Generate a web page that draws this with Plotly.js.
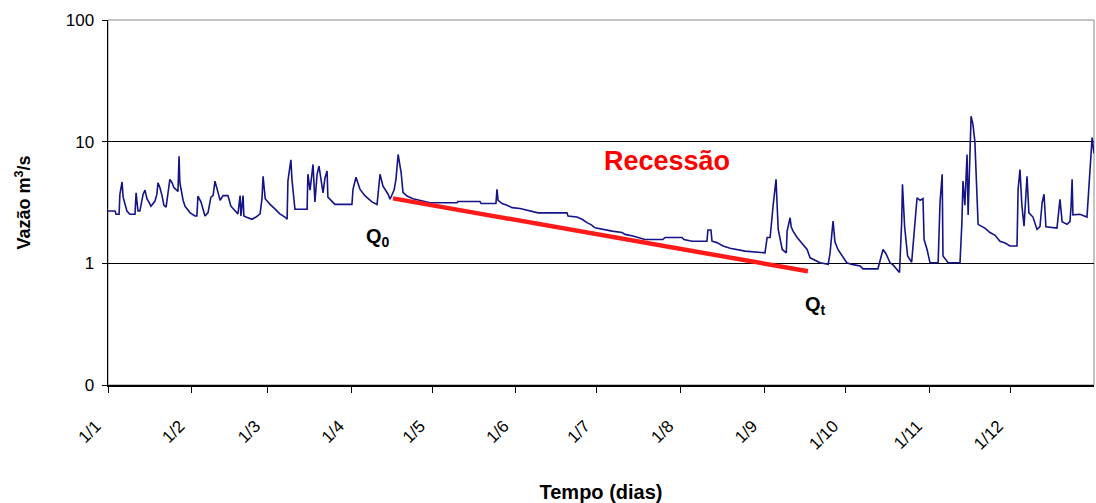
<!DOCTYPE html>
<html>
<head>
<meta charset="utf-8">
<script src="https://cdn.plot.ly/plotly-3.0.1.min.js"></script>
<style>html,body{margin:0;padding:0;background:#fff;}#chart{width:1096px;height:503px;}</style>
</head>
<body>
<div id="chart"></div>
<script>
// Day of year (0 = 1 Jan) and daily flow (m3/s)
const days = [0,2.6,3.0,4.1,4.4,5.2,5.6,6.3,7.0,8.1,10.0,10.4,11.1,11.8,12.2,13.0,13.7,14.4,15.2,15.9,17.4,18.1,18.5,19.2,20.0,20.7,21.5,22.2,22.9,23.7,24.4,25.9,26.3,26.6,27.8,28.5,30.4,32.2,32.9,33.3,34.4,35.9,37.0,38.1,38.9,39.6,40.4,41.5,42.6,44.4,45.5,47.0,48.1,48.9,49.2,50.0,50.3,51.1,53.3,54.8,56.3,57.0,57.4,58.2,59.2,
60.0,61.8,63.6,65.5,66.3,66.6,67.7,68.1,68.9,69.2,73.7,74.0,74.8,75.9,76.6,77.4,78.1,78.8,79.6,80.3,81.1,81.4,82.9,84.0,90.3,90.7,91.8,92.5,93.3,95.1,97.7,99.6,100.7,101.8,102.5,103.7,104.4,105.9,106.6,107.4,108.1,108.5,109.2,110.7,112.9,116.6,119.2,
129.2,129.5,137.7,138.1,143.6,144.0,144.4,145.9,147.7,149.6,152.5,156.2,159.2,169.9,170.3,173.6,175.5,177.3,178.8,180.3,182.9,186.6,190.3,
191.4,194.3,198.8,205.4,206.2,212.5,213.2,216.2,221.7,222.1,223.2,223.6,225.4,227.7,230.3,235.8,241.4,243.2,244.0,245.1,246.2,247.3,247.7,248.1,249.6,251.1,251.4,252.5,252.9,253.6,255.1,257.0,258.8,259.9,261.8,263.6,266.6,267.3,268.4,269.1,270.2,272.1,273.5,275.4,278.4,279.5,285.0,285.8,286.9,288.0,289.5,290.6,293.0,293.8,294.1,294.9,296.0,297.5,298.6,299.5,300.6,301.7,302.1,303.2,304.3,307.3,308.0,308.8,309.1,311.0,315.4,316.1,316.5,317.2,318.0,318.4,319.5,320.2,320.9,321.7,322.1,324.6,326.5,328.4,330.2,332.1,333.9,336.5,336.9,337.6,338.3,339.1,340.2,340.9,342.4,343.9,345.0,345.8,346.5,347.2,351.3,352.4,353.2,355.0,356.1,356.5,356.9,357.2,359.8,362.4,362.8,363.5,364.3,365.0];
const flow = [2.69,2.69,2.53,2.53,3.69,4.66,3.5,3.0,2.69,2.53,2.53,3.8,2.69,2.69,3.0,3.7,4.0,3.4,3.17,2.95,3.25,3.7,4.6,4.2,3.6,3.0,2.9,3.7,4.9,4.6,4.2,3.9,7.6,4.6,3.3,2.95,2.6,2.45,2.45,3.57,3.2,2.45,2.6,3.5,3.6,4.74,4.0,3.3,3.6,3.6,2.95,2.7,2.55,3.6,2.45,3.6,2.45,2.4,2.3,2.4,2.55,3.4,5.2,3.4,3.2,
3.05,2.8,2.55,2.4,2.3,4.74,7.1,4.9,3.5,2.78,2.78,5.4,4.0,6.5,3.2,5.4,6.3,4.9,3.8,5.0,5.74,3.5,3.2,3.05,3.05,4.05,5.1,4.6,4.05,3.6,3.2,3.05,5.4,4.3,4.05,3.7,3.36,4.0,4.9,7.85,6.3,5.6,3.83,3.57,3.4,3.25,3.15,
3.15,3.22,3.22,3.1,3.1,4.05,3.3,3.1,3.0,2.87,2.82,2.69,2.6,2.6,2.45,2.4,2.3,2.16,2.08,1.96,1.9,1.84,1.79,
1.73,1.68,1.57,1.57,1.63,1.63,1.57,1.52,1.52,1.88,1.88,1.52,1.48,1.39,1.33,1.26,1.22,1.22,1.63,1.63,2.96,4.9,3.0,1.9,1.3,1.22,1.84,2.37,2.0,1.84,1.63,1.45,1.3,1.11,1.05,1.01,0.98,1.22,2.23,1.5,1.3,1.11,1.01,0.98,0.95,0.9,0.9,1.05,1.3,1.2,1.01,0.97,0.84,2.16,4.46,2.0,1.15,1.02,1.9,3.46,3.3,3.4,1.57,1.3,1.01,1.01,3.15,5.4,1.15,1.01,1.01,2.16,4.74,3.0,7.85,2.5,16.2,13.8,10,3.57,2.09,1.95,1.79,1.7,1.52,1.47,1.39,1.39,4.05,5.9,3.0,2.02,5.2,2.6,2.4,1.9,2.0,3.15,3.7,2.0,1.95,3.36,2.2,2.09,2.2,2.9,4.9,2.5,2.53,2.4,3.46,5.9,10.8,8.0];

// Recession line end points (day, flow)
const recDays = [105.5, 259.1];
const recFlow = [3.42, 0.86];

const tickDays = [0,31,59,90,120,151,181,212,243,273,304,334];
const tickLabels = ['1/1','1/2','1/3','1/4','1/5','1/6','1/7','1/8','1/9','1/10','1/11','1/12'];
const yTicks = [0.1, 1, 10, 100];
const yLabels = ['0','1','10','100'];

const font = 'Liberation Sans, Arial, sans-serif';

const traces = [
  {x: days, y: flow, type: 'scatter', mode: 'lines', line: {color: '#141488', width: 1.6}, hoverinfo: 'skip'},
  {x: recDays, y: recFlow, type: 'scatter', mode: 'lines', line: {color: '#ff1a1a', width: 4.5}, hoverinfo: 'skip'}
];

const layout = {
  width: 1096, height: 503,
  margin: {l: 108, r: 2, t: 20, b: 118},
  paper_bgcolor: '#fff', plot_bgcolor: '#fff',
  showlegend: false,
  font: {family: font, color: '#000', size: 17},
  xaxis: {
    range: [0, 365], tickvals: tickDays, ticktext: tickLabels, tickangle: -45,
    ticks: 'outside', ticklen: 6, tickcolor: '#000', showgrid: false, zeroline: false,
    showline: true, linecolor: '#000', linewidth: 1.5, ticklabelstandoff: 17, ticklabelshift: -12,
    tickfont: {family: font, size: 17, color: '#000'},
    title: {text: '<b>Tempo (dias)</b>', font: {family: font, size: 20, color: '#000'}, standoff: 32}
  },
  yaxis: {
    type: 'log', range: [-1, 2], tickvals: yTicks, ticktext: yLabels,
    ticks: 'outside', ticklen: 5, tickcolor: '#000', showgrid: true, gridcolor: '#000', gridwidth: 1,
    zeroline: false, showline: true, linecolor: '#000', linewidth: 1.5, ticklabelstandoff: 4,
    tickfont: {family: font, size: 17, color: '#000'},
    title: {text: '<b>Vazão m<sup>3</sup>/s</b>', font: {family: font, size: 18, color: '#000'}, standoff: 30}
  },
  shapes: [
    {type: 'rect', xref: 'paper', yref: 'paper', x0: 0, x1: 1, y0: 0, y1: 1, line: {color: '#888', width: 1}, layer: 'below'}
  ],
  annotations: [
    {x: 207, y: Math.log10(6.9), xref: 'x', yref: 'y', text: '<b>Recessão</b>', showarrow: false, font: {family: font, size: 27, color: '#ff0000'}},
    {x: 100, y: Math.log10(1.62), xref: 'x', yref: 'y', text: '<b>Q<sub>0</sub></b>', showarrow: false, font: {family: font, size: 20, color: '#000'}},
    {x: 262, y: Math.log10(0.45), xref: 'x', yref: 'y', text: '<b>Q<sub>t</sub></b>', showarrow: false, font: {family: font, size: 20, color: '#000'}}
  ]
};

Plotly.newPlot('chart', traces, layout, {displayModeBar: false, staticPlot: true});
</script>
</body>
</html>
